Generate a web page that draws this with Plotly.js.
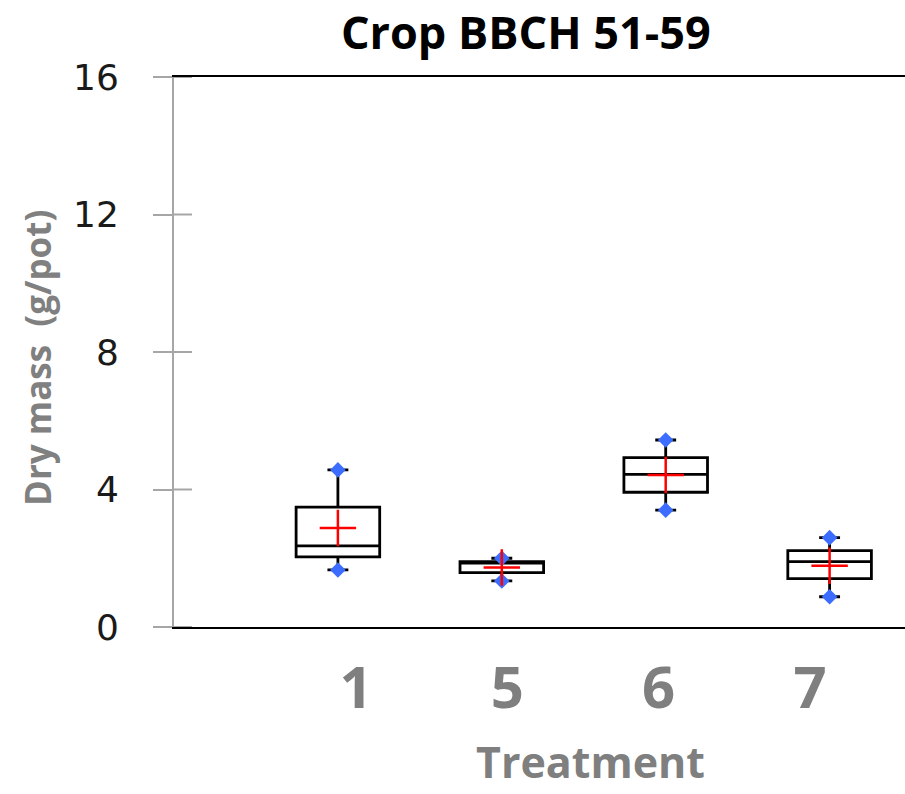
<!DOCTYPE html>
<html>
<head>
<meta charset="utf-8">
<script src="https://cdn.plot.ly/plotly-3.0.1.min.js"></script>
<style>html,body{margin:0;padding:0;background:#fff;}#chart{width:905px;height:794px;}</style>
</head>
<body>
<div id="chart"></div>
<script>
// Data
const treatments = ['1', '5', '6', '7'];
const q1Values = [2.04, 1.58, 3.92, 1.41];
const medianValues = [2.36, 1.86, 4.44, 1.90];
const q3Values = [3.49, 1.90, 4.93, 2.22];
const lowerWhisker = [1.66, 1.34, 3.40, 0.88];
const upperWhisker = [4.57, 2.00, 5.44, 2.60];
const meanValues = [2.88, 1.73, 4.42, 1.78];
const yTicks = [0, 4, 8, 12, 16];

const traces = [
  {
    type: 'box',
    x: treatments,
    q1: q1Values,
    median: medianValues,
    q3: q3Values,
    lowerfence: lowerWhisker,
    upperfence: upperWhisker,
    width: 0.51,
    whiskerwidth: 0.25,
    line: {color: '#000000', width: 2.8},
    fillcolor: 'rgba(255,255,255,0)',
    boxpoints: false,
    showlegend: false,
    hoverinfo: 'skip'
  },
  {
    type: 'scatter',
    mode: 'markers',
    x: treatments.concat(treatments),
    y: lowerWhisker.concat(upperWhisker),
    marker: {symbol: 'diamond', size: 12, color: '#3d6dff', line: {width: 0}},
    showlegend: false,
    hoverinfo: 'skip'
  },
  {
    type: 'scatter',
    mode: 'markers',
    x: treatments,
    y: meanValues,
    marker: {symbol: 'cross-thin-open', size: 26, color: '#ff0000', line: {color: '#ff0000', width: 2.5}},
    showlegend: false,
    hoverinfo: 'skip'
  },
  // invisible trace that activates the label axis (xaxis2)
  {
    type: 'scatter',
    mode: 'markers',
    x: treatments,
    y: medianValues,
    xaxis: 'x2',
    marker: {opacity: 0},
    showlegend: false,
    hoverinfo: 'skip'
  }
];

const insideTicks = yTicks.map(v => ({
  type: 'line', xref: 'paper', yref: 'y',
  x0: 0, x1: 18 / 731, y0: v, y1: v,
  layer: 'above',
  line: {color: '#a6a6a6', width: 2}
}));

const layout = {
  width: 905,
  height: 794,
  margin: {l: 174, r: 0, t: 77, b: 167},
  paper_bgcolor: '#ffffff',
  plot_bgcolor: '#ffffff',
  title: {
    text: 'Crop BBCH 51-59',
    font: {family: 'Open Sans, sans-serif', size: 45, color: '#000000', weight: 'bold'},
    x: 0.581, xref: 'container', xanchor: 'center',
    y: 0.958, yref: 'container', yanchor: 'middle'
  },
  xaxis: {
    type: 'category',
    range: [-1, 3.46],
    showline: true,
    linecolor: '#000000',
    linewidth: 2,
    mirror: true,
    ticks: '',
    showticklabels: false,
    showgrid: false,
    zeroline: false
  },
  xaxis2: {
    type: 'category',
    overlaying: 'x',
    side: 'bottom',
    anchor: 'y',
    range: [-1.203, 3.628],
    showline: false,
    ticks: '',
    showgrid: false,
    zeroline: false,
    tickfont: {family: 'Open Sans, sans-serif', size: 58, color: '#7f7f7f', weight: 'bold'},
    ticklabelstandoff: 22
  },
  yaxis: {
    range: [0, 16],
    tickvals: yTicks,
    ticktext: yTicks.map(String),
    showline: true,
    linecolor: '#a6a6a6',
    linewidth: 2,
    ticks: 'outside',
    ticklen: 19,
    tickwidth: 2,
    tickcolor: '#a6a6a6',
    showgrid: false,
    zeroline: false,
    tickfont: {family: 'DejaVu Sans, sans-serif', size: 36, color: '#1a1a1a'},
    ticklabelstandoff: 27
  },
  shapes: insideTicks,
  annotations: [
    {
      text: 'Dry mass  (g/pot)',
      xref: 'paper', yref: 'paper',
      x: (37 - 174) / 731, y: (627 - 358) / 550,
      xanchor: 'center', yanchor: 'middle',
      textangle: -90,
      showarrow: false,
      font: {family: 'Open Sans, sans-serif', size: 35, color: '#808080', weight: 'bold'}
    },
    {
      text: 'Treatment',
      xref: 'paper', yref: 'paper',
      x: (590 - 174) / 731, y: (627 - 793) / 550,
      xanchor: 'center', yanchor: 'bottom',
      showarrow: false,
      font: {family: 'Open Sans, sans-serif', size: 43, color: '#7f7f7f', weight: 'bold'}
    }
  ]
};

Plotly.newPlot('chart', traces, layout, {displayModeBar: false, staticPlot: true});
</script>
</body>
</html>
